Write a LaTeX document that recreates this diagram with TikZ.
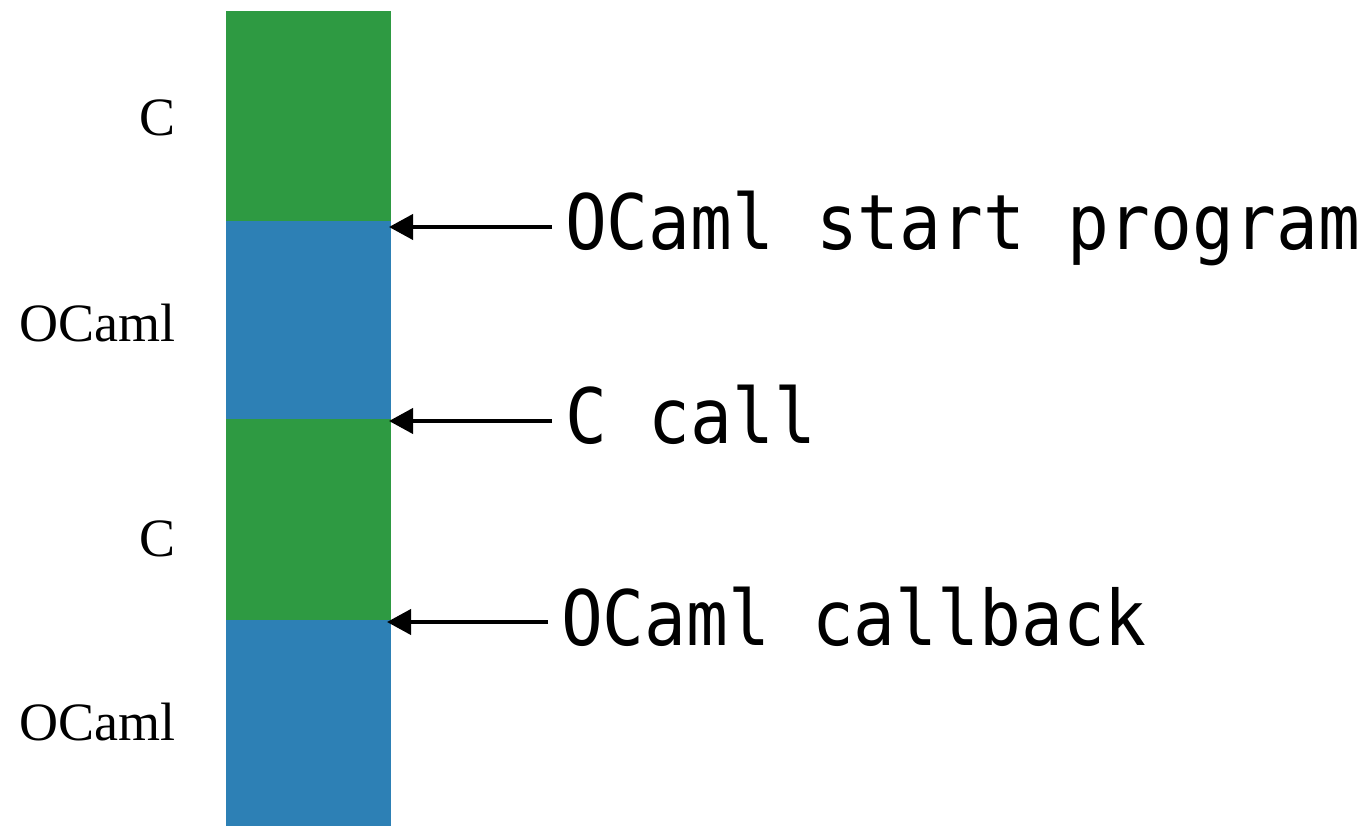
\documentclass[tikz,border=0pt]{standalone}
\usepackage{fontspec}
\setmainfont{Liberation Serif}
\newfontfamily\codefont{DejaVu Sans Mono}
\usetikzlibrary{arrows.meta}

\definecolor{cgreen}{RGB}{46,154,66}
\definecolor{oblue}{RGB}{45,128,181}

\tikzset{
  seg/.style={draw=none, inner sep=0pt, outer sep=0pt, minimum width=165pt, anchor=north west},
  langlabel/.style={anchor=base east, inner sep=0pt, font=\fontsize{54}{60}\selectfont},
  codelabel/.style={anchor=base west, inner sep=0pt, outer xsep=13pt, font=\codefont\fontsize{69.5}{75}\selectfont},
  pointer/.style={line width=4pt, -{Triangle[length=24pt,width=25pt]}}
}

\begin{document}
\begin{tikzpicture}[x=1pt,y=-1pt]
  \useasboundingbox (0,0) rectangle (1369,826);

  % stack of frames, top to bottom
  \node[seg, fill=cgreen, minimum height=210pt] (s1) at (226,11) {};
  \node[seg, fill=oblue,  minimum height=198pt] (s2) at (226,221) {};
  \node[seg, fill=cgreen, minimum height=201pt] (s3) at (226,419) {};
  \node[seg, fill=oblue,  minimum height=206pt] (s4) at (226,620) {};

  % language of each frame
  \node[langlabel] (l1) at (176,136) {C};
  \node[langlabel] (l2) at (176,342) {OCaml};
  \node[langlabel] (l3) at (176,556) {C};
  \node[langlabel] (l4) at (176,740) {OCaml};

  % transitions between frames
  \coordinate (p1) at (389,227);
  \coordinate (p2) at (389,421);
  \coordinate (p3) at (387,622);

  \node[codelabel] (t1) at (552,250) {\scalebox{1}[1.1]{OCaml start program}};
  \node[codelabel] (t2) at (552,443) {\scalebox{1}[1.1]{C call}};
  \node[codelabel] (t3) at (548,645) {\scalebox{1}[1.1]{OCaml callback}};

  \draw[pointer] (p1 -| t1.west) -- (p1);
  \draw[pointer] (p2 -| t2.west) -- (p2);
  \draw[pointer] (p3 -| t3.west) -- (p3);
\end{tikzpicture}
\end{document}
